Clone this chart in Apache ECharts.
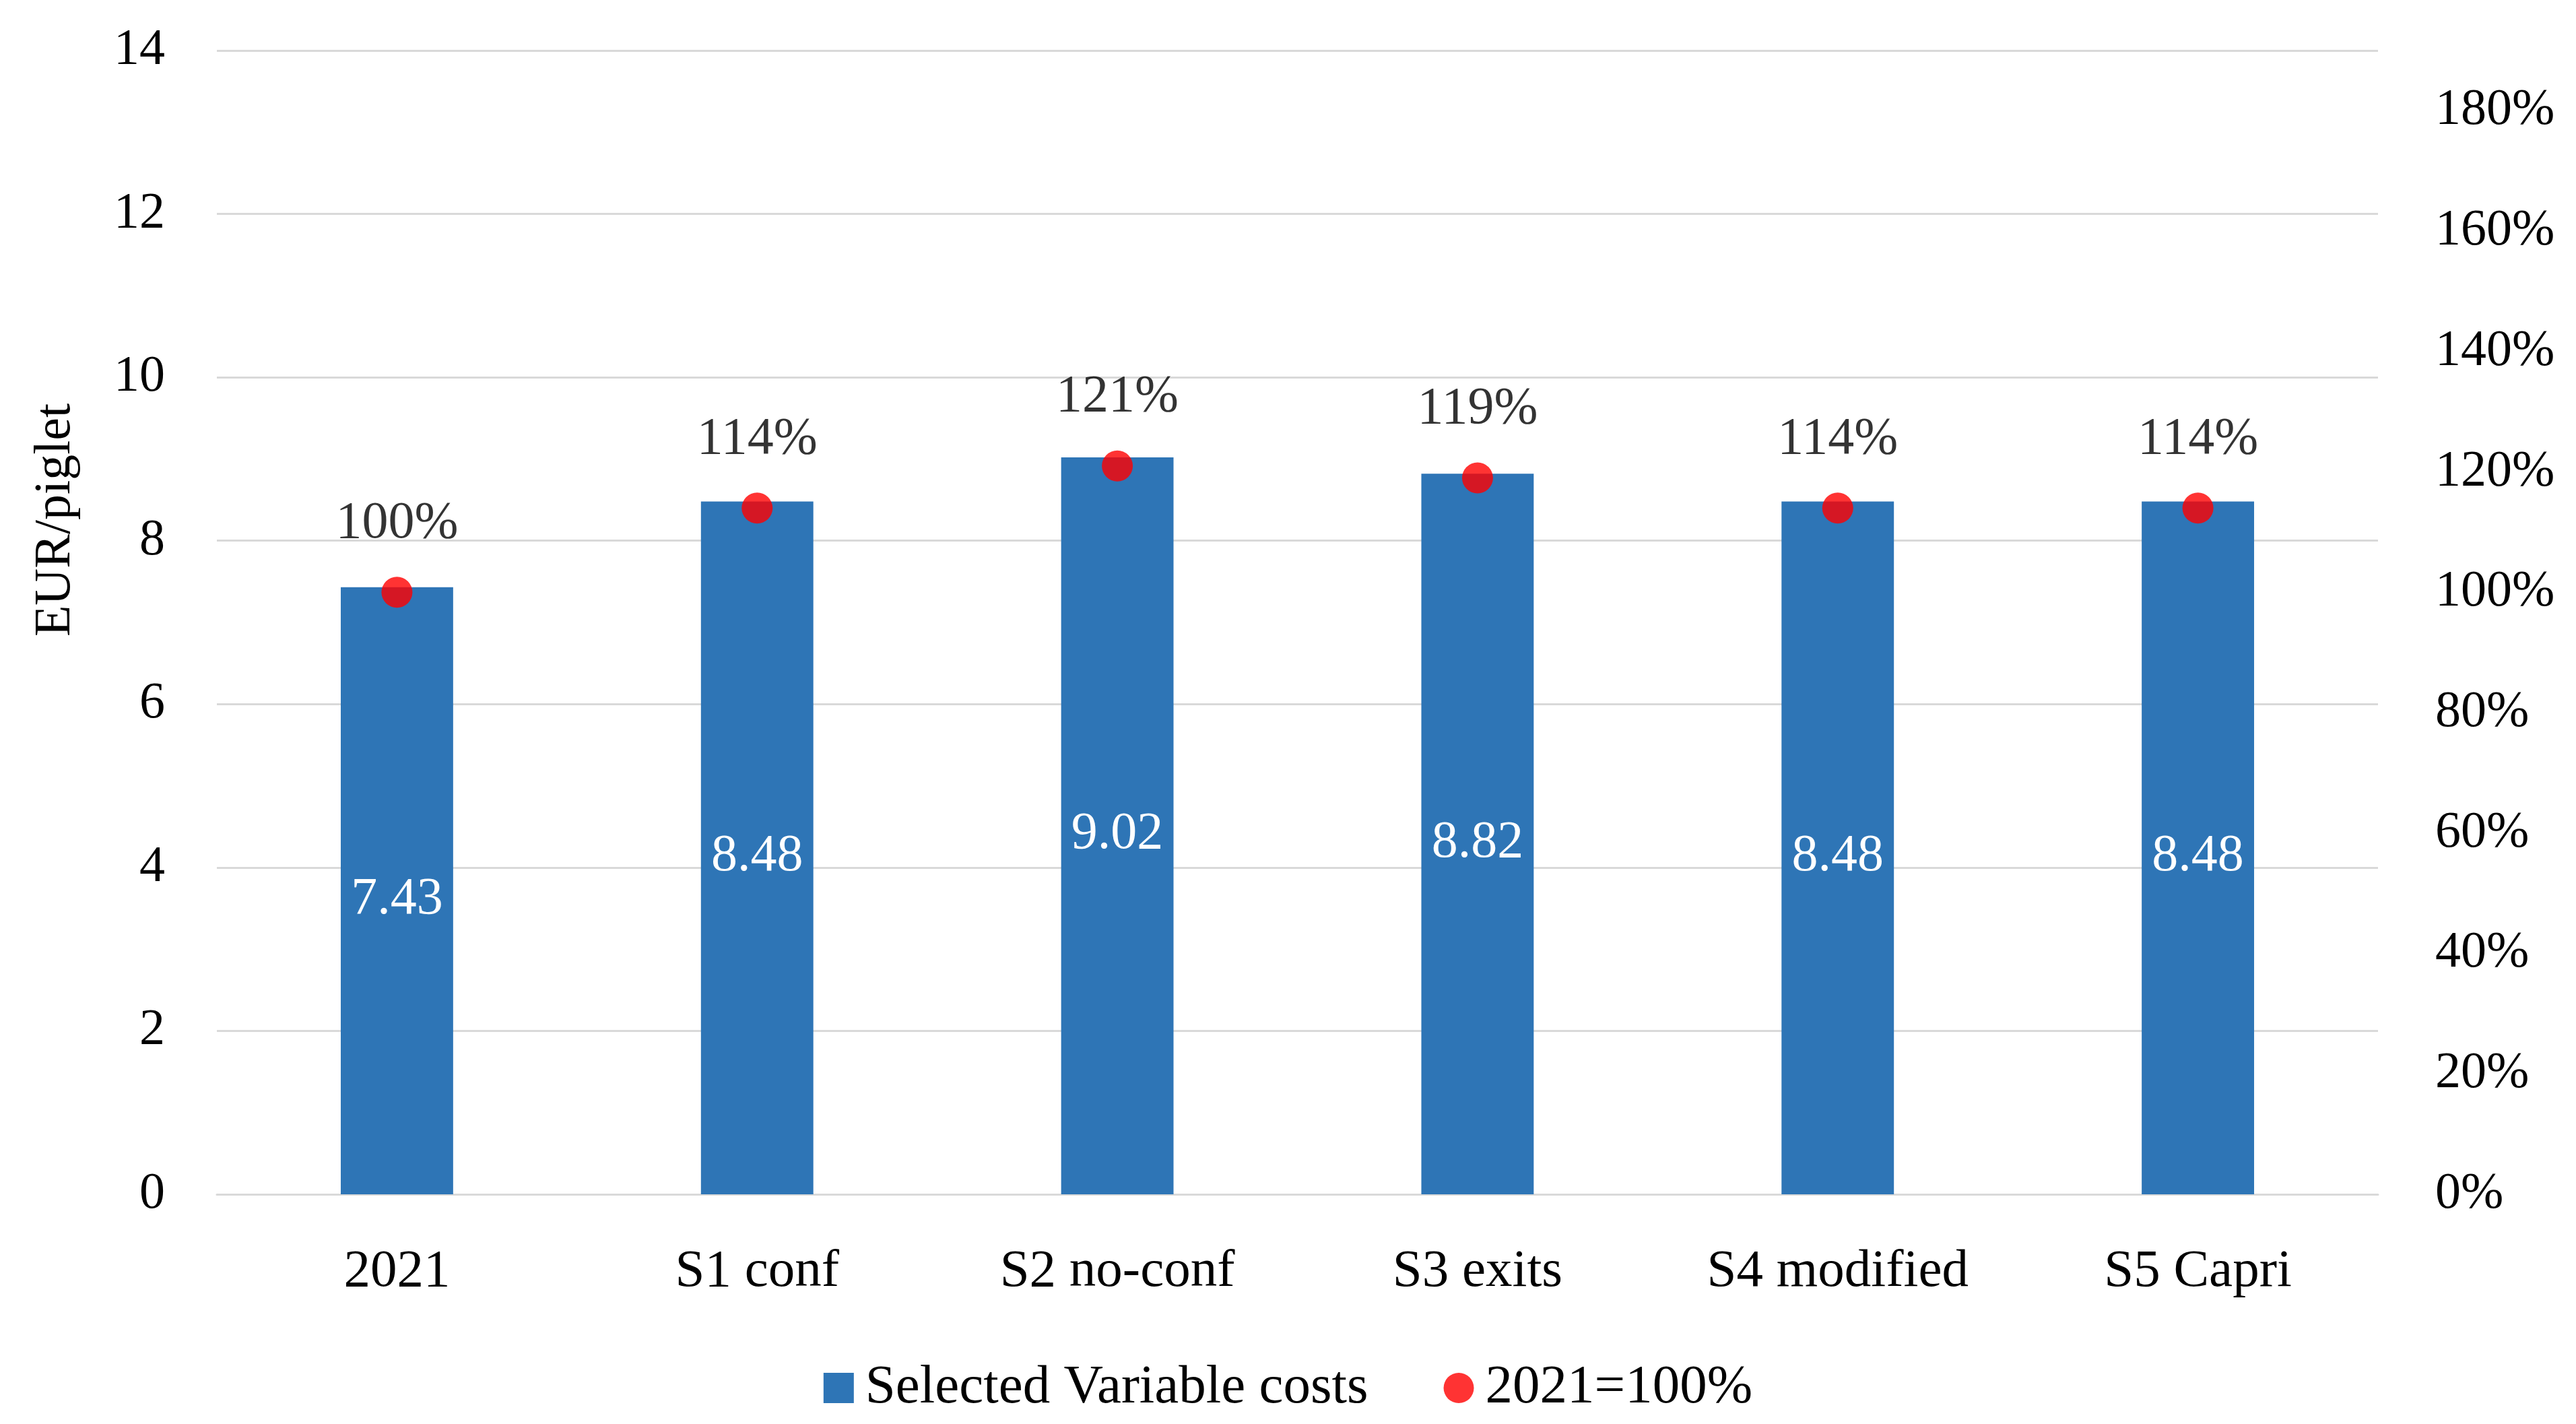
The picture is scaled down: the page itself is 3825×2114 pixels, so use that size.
<!DOCTYPE html>
<html>
<head>
<meta charset="utf-8">
<script src="https://cdn.jsdelivr.net/npm/echarts@6/dist/echarts.min.js"></script>
<style>
html,body{margin:0;padding:0;background:#fff;}
#c{width:3825px;height:2114px;}
</style>
</head>
<body>
<div id="c"></div>
<script>
const categories = ['2021', 'S1 conf', 'S2 no-conf', 'S3 exits', 'S4 modified', 'S5 Capri'];
const costs = [7.43, 8.48, 9.02, 8.82, 8.48, 8.48];
const indexPct = [100, 114, 121, 119, 114, 114];
const seriesNames = ['Selected Variable costs', '2021=100%'];
const yAxisTitle = 'EUR/piglet';

const FONT = '"Liberation Serif", "DejaVu Serif", serif';
const FS = 76;

const chart = echarts.init(document.getElementById('c'), null, {renderer: 'canvas'});
chart.setOption({
  backgroundColor: '#ffffff',
  animation: false,
  textStyle: {fontFamily: FONT},
  grid: {left: 322, right: 294, top: 75, bottom: 341, containLabel: false},
  legend: {
    left: 'center',
    top: 2015,
    itemWidth: 45,
    itemHeight: 45,
    itemGap: 112,
    textStyle: {fontFamily: FONT, fontSize: 81, color: '#000', padding: [0, 0, 0, 12]},
    data: [
      {name: seriesNames[0], icon: 'rect'},
      {name: seriesNames[1], icon: 'circle'}
    ]
  },
  xAxis: {
    type: 'category',
    data: categories,
    axisLine: {show: true, lineStyle: {color: '#D9D9D9', width: 3}},
    axisTick: {show: false},
    axisLabel: {fontFamily: FONT, fontSize: 79, color: '#000', margin: 76}
  },
  yAxis: [
    {
      type: 'value',
      min: 0, max: 14, interval: 2,
      axisLine: {show: false},
      axisTick: {show: false},
      splitLine: {show: true, lineStyle: {color: '#D9D9D9', width: 3}},
      axisLabel: {fontFamily: FONT, fontSize: FS, color: '#000', margin: 77}
    },
    {
      type: 'value',
      min: 0, max: 190, interval: 20,
      position: 'right',
      alignTicks: false,
      axisLine: {show: false},
      axisTick: {show: false},
      splitLine: {show: false},
      axisLabel: {fontFamily: FONT, fontSize: FS, color: '#000', margin: 85, formatter: '{value}%', showMaxLabel: false}
    }
  ],
  graphic: [
    {
      type: 'text',
      x: 83, y: 772,
      rotation: Math.PI / 2,
      style: {text: yAxisTitle, font: FS + 'px ' + FONT, fill: '#000', textAlign: 'center', textVerticalAlign: 'middle'}
    }
  ],
  series: [
    {
      name: seriesNames[0],
      type: 'bar',
      data: costs,
      yAxisIndex: 0,
      barWidth: '31.2%',
      itemStyle: {color: '#2E75B6'},
      label: {show: true, position: 'inside', offset: [0, 13], color: '#fff', fontFamily: FONT, fontSize: 78, formatter: (p) => p.value.toFixed(2)}
    },
    {
      name: seriesNames[1],
      type: 'scatter',
      data: indexPct,
      yAxisIndex: 1,
      symbol: 'circle',
      symbolSize: 46,
      itemStyle: {color: '#FF0000'},
      z: 5,
      label: {show: true, position: 'top', distance: 40, color: '#000', fontFamily: FONT, fontSize: 78, formatter: '{c}%'}
    }
  ]
});
</script>
</body>
</html>
